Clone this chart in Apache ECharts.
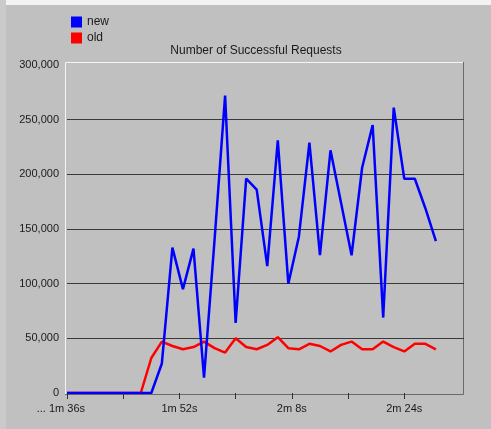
<!DOCTYPE html>
<html>
<head>
<meta charset="utf-8">
<script src="https://cdn.jsdelivr.net/npm/echarts@6/dist/echarts.min.js"></script>
<style>
html,body{margin:0;padding:0;background:#c0c0c0;}
#c{width:491px;height:429px;}
</style>
</head>
<body>
<div id="c"></div>
<script>
// time in seconds
var times = [96,97.5,99,100.5,102,103.5,105,106.5,108,109.5,111,112.5,114,115.5,117,118.5,120,121.5,123,124.5,126,127.5,129,130.5,132,133.5,135,136.5,138,139.5,141,142.5,144,145.5,147,148.5];
var newReqs = [0,0,0,0,0,0,0,0,0,27000,133000,95000,132000,14000,140000,272000,64000,196000,186000,116000,231000,100000,143000,229000,126000,222000,174000,126000,206000,245000,69000,261000,196000,196000,169000,139000];
var oldReqs = [0,0,0,0,0,0,0,0,32000,47000,43000,40000,42000,47000,41000,37000,50000,42000,40000,44000,51000,41000,40000,45000,43000,38000,44000,47000,40000,40000,47000,42000,38000,45000,45000,40000];
var xTicks = [96,104,112,120,128,136,144];
var xLabels = [96,112,128,144];
var seriesNames = ['new','old'];
var titleText = 'Number of Successful Requests';

function fmtTime(v){
  var m = Math.floor(v/60), s = Math.round(v - m*60);
  return m + 'm ' + s + 's';
}
function pairs(vals){ return times.map(function(t,i){ return [t, vals[i]]; }); }

var chart = echarts.init(document.getElementById('c'));
var font = 'Liberation Sans, Arial, sans-serif';
chart.setOption({
  backgroundColor: '#c0c0c0',
  animation: false,
  textStyle: {fontFamily: font},
  title: {
    text: titleText, left: 256, top: 45, padding: 0, textAlign: 'center',
    textStyle: {fontSize: 12, fontWeight: 'normal', color: '#1a1a1a', fontFamily: font}
  },
  legend: {
    data: seriesNames, orient: 'vertical', left: 71, top: 16, padding: 0,
    itemWidth: 11, itemHeight: 11, itemGap: 4, icon: 'rect',
    textStyle: {fontSize: 12, color: '#1a1a1a', fontFamily: font}
  },
  graphic: [
    {type: 'rect', shape: {x: 0, y: 0, width: 491, height: 5}, style: {fill: '#f2f2f2'}, silent: true, z: -1},
    {type: 'rect', shape: {x: 0, y: 0, width: 6, height: 429}, style: {fill: '#cacaca'}, silent: true, z: -1},
    {type: 'polyline', shape: {points: [[65.5, 394], [65.5, 62.5], [464, 62.5]]}, style: {stroke: '#f4f4f4', lineWidth: 1, fill: null}, silent: true, z: 0},
    {type: 'polyline', shape: {points: [[463.5, 62], [463.5, 394.5], [65, 394.5]]}, style: {stroke: '#6a6a6a', lineWidth: 1, fill: null}, silent: true, z: 0}
  ],
  grid: {left: 67, right: 27, top: 65, bottom: 36},
  xAxis: {
    type: 'value', min: 96, max: 152.5,
    axisLine: {show: false},
    axisTick: {show: true, length: 6, customValues: xTicks, lineStyle: {color: '#333', width: 1}},
    axisLabel: {
      customValues: xLabels, margin: 10, fontSize: 11, color: '#1a1a1a', fontFamily: font,
      formatter: function(v){
        return v === 96 ? '... ' + fmtTime(v) + '{h|... }' : fmtTime(v);
      },
      rich: {h: {color: 'transparent', fontSize: 11, fontFamily: font}}
    },
    splitLine: {show: false}
  },
  yAxis: {
    type: 'value', min: 0, max: 300000, interval: 50000,
    axisLine: {show: false}, axisTick: {show: false},
    axisLabel: {
      margin: 8, fontSize: 11, color: '#1a1a1a', fontFamily: font,
      formatter: function(v){ return v.toLocaleString('en-US'); }
    },
    splitLine: {show: true, lineStyle: {color: ['transparent','#3a3a3a','#3a3a3a','#3a3a3a','#3a3a3a','#3a3a3a','transparent'], width: 1}}
  },
  series: [
    {name: 'old', type: 'line', data: pairs(oldReqs), showSymbol: false, color: '#ff0000', lineStyle: {width: 2.5, color: '#ff0000'}, z: 3},
    {name: 'new', type: 'line', data: pairs(newReqs), showSymbol: false, color: '#0000ff', lineStyle: {width: 2.5, color: '#0000ff'}, z: 4}
  ]
});
</script>
</body>
</html>
